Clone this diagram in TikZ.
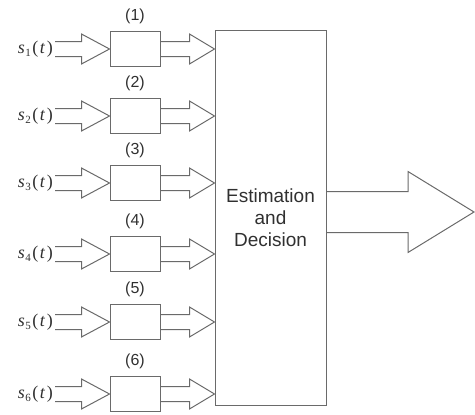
\documentclass[tikz,border=0pt]{standalone}
\usepackage{fontspec}
\setmainfont{Liberation Sans}
\newfontfamily\tms{Liberation Serif}
\usetikzlibrary{calc}
\definecolor{ln}{HTML}{6A6A6A}
\definecolor{tx}{HTML}{303030}
\tikzset{
  blk/.style={draw=ln, line width=1pt, minimum width=50pt, minimum height=35pt, inner sep=0pt},
  bigblk/.style={draw=ln, line width=1pt, minimum width=111pt, minimum height=375pt, inner sep=0pt,
    align=center, text=tx, font=\fontsize{19}{22}\selectfont},
  fat/.style={draw=ln, line width=1pt, line join=miter},
  numlbl/.style={text=tx, font=\fontsize{16}{18}\selectfont, inner sep=0pt},
  siglbl/.style={text=tx, font=\tms\fontsize{18}{20}\selectfont, inner sep=0pt, anchor=east}
}
\newcommand{\sig}[1]{\textit{s}\kern0.5pt\raisebox{-0.35ex}{\fontsize{11}{12}\selectfont #1}\kern1.5pt(\kern1.5pt\textit{t}\kern1.5pt)}
% fat arrow: start, tip, head length, shaft half, head half
\newcommand{\fatarrow}[5]{%
  \draw[fat] ($(#1)+(0,-#4)$) -- ($(#2)+(-#3,-#4)$) -- ($(#2)+(-#3,-#5)$) -- (#2)
    -- ($(#2)+(-#3,#5)$) -- ($(#2)+(-#3,#4)$) -- ($(#1)+(0,#4)$);}
\begin{document}
\begin{tikzpicture}[x=1pt,y=-1pt]
\useasboundingbox (0,0) rectangle (475,415);
\node[bigblk] (ED) at (270.5,217.5) {Estimation\\and\\Decision};
\foreach \i/\y in {1/49,2/116,3/183,4/254,5/322,6/394}{
  \node[blk] (b\i) at (135,\y) {};
  \node[numlbl] (l\i) at ($(b\i.north)+(0,-15)$) {(\i)};
  \node[siglbl] (s\i) at (53,\y) {\sig{\i}};
  \coordinate (in\i) at (55,\y);
  \coordinate (o\i) at (b\i.east -| ED.west);
  \fatarrow{in\i}{b\i.west}{28}{7.5}{15}
  \fatarrow{b\i.east}{o\i}{25}{7.5}{15}
}
\coordinate (out) at (474,212);
\coordinate (outs) at (ED.east |- out);
\fatarrow{outs}{out}{66}{20.5}{40.5}
\end{tikzpicture}
\end{document}
